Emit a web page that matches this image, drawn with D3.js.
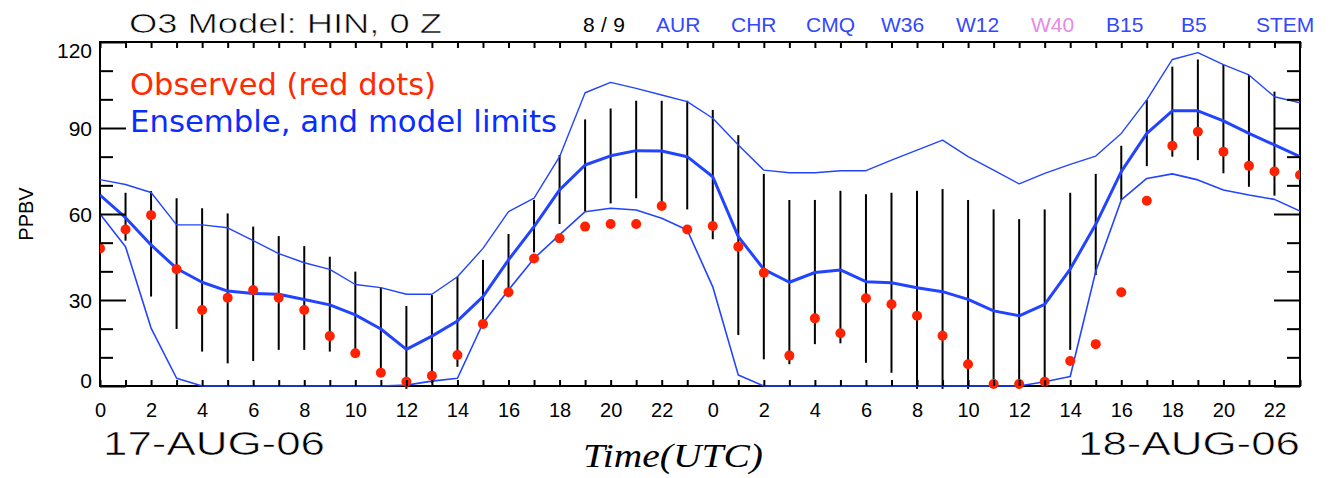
<!DOCTYPE html>
<html>
<head>
<meta charset="utf-8">
<script src="https://cdn.jsdelivr.net/npm/d3@7"></script>
<style>
  html, body { margin: 0; padding: 0; background: #fff; }
  svg { display: block; }
  .thin { stroke: #fff; stroke-width: 0.6px; }
</style>
</head>
<body>
<svg id="chart"></svg>
<script>
// Hour index over the two days (0..47), labels wrap at 24
const hours = d3.range(0, 48);
const dayLabels = ["17-AUG-06", "18-AUG-06"];
const yTickValues = [0, 30, 60, 90, 120];
const stations = ["AUR", "CHR", "CMQ", "W36", "W12", "W40", "B15", "B5", "STEM"];

// Model upper limit, ensemble mean, lower limit (ppbv)
const upperLimit = [72, 70.3, 67.5, 56.2, 56.2, 55.2, 50.7, 46.2, 43, 40.7, 35.4, 34.3, 32, 32, 38.1, 48,
  60.8, 65.5, 80, 102.3, 105.9, 103.8, 101.5, 99.2, 93.4, 84.1, 75.3, 74.4, 74.4, 75.1, 75.1, 78.8,
  82.3, 85.8, 80, 75.3, 70.5, 74.2, 77.3, 80.2, 88.1, 99.8, 113.9, 116.3, 112.1, 108.5, 100.9, 98.8];
const ensembleMean = [66.6, 58.7, 49.2, 41, 36.2, 33.1, 32.3, 32, 30.2, 28.3, 24.8, 19.9, 12.8, 17.4, 22.7, 31.2,
  44, 55.6, 68.4, 77.1, 80.3, 82.1, 82, 80, 73, 52.1, 40.7, 36.2, 39.6, 40.5, 36.4, 36,
  34.3, 32.9, 30.2, 26.2, 24.5, 28.5, 40.8, 56.4, 74.8, 88.1, 96, 96, 92.5, 88.1, 84.1, 80];
const lowerLimit = [60, 48.6, 20.2, 2.7, 0, 0, 0, 0, 0, 0, 0, 0, 0.3, 1.7, 2.7, 21.9,
  33.5, 44.5, 52.7, 60.8, 62, 61.4, 58.5, 54.4, 34.6, 3.8, 0, 0, 0, 0, 0, 0,
  0, 0, 0, 0, 0, 1.5, 3.3, 40, 64.9, 72.4, 74, 71.9, 68.4, 66.6, 65.1, 61];

// Observed ozone (red dots)
const observed = [48, 54.6, 59.6, 40.7, 26.5, 30.8, 33.5, 30.8, 26.5, 17.4, 11.4, 4.6, 1.5, 3.6, 10.8, 21.6,
  32.7, 44.5, 51.5, 55.6, 56.5, 56.5, 62.8, 54.6, 55.8, 48.6, 39.5, 10.6, 23.6, 18.4, 30.6, 28.5,
  24.5, 17.5, 7.6, 0.7, 0.7, 1.5, 8.7, 14.6, 32.7, 64.6, 83.8, 88.7, 81.7, 76.8, 74.8, 73.6];

// Vertical range bars (top / bottom)
const barTop = [null, 67.4, 68, 65.5, 62, 60.2, 55.6, 52.3, 48.8, 45.1, 39.9, 34.4, 27.9, 31.7, 38.1, 44,
  53, 64.9, 80.6, 93, 96.8, 99.5, 99.5, 99.5, 96.3, 87.5, 74, 64.9, 64.9, 68.1, 66.9, 67.4,
  68.1, 68.7, 64.9, 61.6, 58.2, 61.6, 67.4, 74, 83.8, 99.8, 111.4, 113.9, 112.1, 108.5, 102.7, null];
const barBottom = [null, 50.7, 31.2, 19.9, 12, 7.9, 8.7, 12.6, 12.6, 12, 10.2, 3.8, -1, 1, 6.7, 20.1,
  31.7, 46.6, 56.5, 61, 63.7, 65.5, 63.7, 61.6, 51.2, 17.8, 9.3, 7.6, 14.6, 14.9, 8.1, 4.6,
  -1, -1, -1, 0, 0, 0, 12.6, 38.7, 64.9, 76.7, 80, 78.8, 74.2, 69.5, 66.4, null];

const width = 1330, height = 478;
const margin = { top: 42, right: 30, bottom: 92, left: 100 };
const innerRight = width - margin.right;
const innerBottom = height - margin.bottom;

const blue = "#2244ff";
const stationColor = name => name === "W40" ? "#e58ae5" : "#3347ff";

const svg = d3.select("#chart")
  .attr("width", width)
  .attr("height", height)
  .style("font-family", "'Liberation Sans', Arial, sans-serif");

const x = d3.scaleLinear().domain([0, 47]).range([margin.left, innerRight]);
const y = d3.scaleLinear().domain([0, 120]).range([innerBottom, margin.top]);

// frame first, so the model lines lying on zero stay visible on top of it
svg.append("rect")
  .attr("x", margin.left).attr("y", margin.top)
  .attr("width", innerRight - margin.left).attr("height", innerBottom - margin.top)
  .attr("fill", "none").attr("stroke", "#000").attr("stroke-width", 2);

svg.append("clipPath").attr("id", "plotClip")
  .append("rect")
  .attr("x", margin.left).attr("y", margin.top - 4)
  .attr("width", innerRight - margin.left).attr("height", innerBottom - margin.top + 8);

const plot = svg.append("g").attr("clip-path", "url(#plotClip)");

// range bars
plot.append("g")
  .selectAll("line")
  .data(hours.filter(h => barTop[h] !== null))
  .join("line")
  .attr("x1", h => x(h)).attr("x2", h => x(h))
  .attr("y1", h => y(barTop[h])).attr("y2", h => y(barBottom[h]))
  .attr("stroke", "#000")
  .attr("stroke-width", 2);

// model lines
const lineGen = series => d3.line().x((d, i) => x(hours[i])).y(d => y(d))(series);
[[upperLimit, 1.4], [lowerLimit, 1.6], [ensembleMean, 3]].forEach(([s, w]) => {
  plot.append("path")
    .attr("d", lineGen(s))
    .attr("fill", "none")
    .attr("stroke", blue)
    .attr("stroke-width", w)
    .attr("stroke-linejoin", "round");
});

// observed dots
plot.append("g")
  .selectAll("circle")
  .data(observed)
  .join("circle")
  .attr("cx", (d, i) => x(hours[i]))
  .attr("cy", d => y(d))
  .attr("r", 5)
  .attr("fill", "#ff2200");

// axes: bottom (labels every 2 h) and top, ticks pointing inward
const xBottom = d3.axisBottom(x)
  .tickValues(hours)
  .tickSize(-6)
  .tickPadding(17)
  .tickFormat(h => h % 2 === 0 ? String(h % 24) : "");
const gxb = svg.append("g").attr("transform", `translate(0,${innerBottom})`).call(xBottom);
gxb.selectAll("text").style("font-size", "20px").attr("fill", "#000");

const gxt = svg.append("g").attr("transform", `translate(0,${margin.top})`)
  .call(d3.axisTop(x).tickValues(hours).tickSize(-6).tickFormat(""));

// left and right: minor every 10, major every 30
const yMinor = d3.range(0, 121, 10);
const tickLen = v => v % 30 === 0 ? 26 : 13;
const gyl = svg.append("g").attr("transform", `translate(${margin.left},0)`)
  .call(d3.axisLeft(y).tickValues(yMinor).tickSize(0).tickFormat(""));
gyl.selectAll(".tick line").attr("x2", d => tickLen(d));
const gyr = svg.append("g").attr("transform", `translate(${innerRight},0)`)
  .call(d3.axisRight(y).tickValues(yMinor).tickSize(0).tickFormat(""));
gyr.selectAll(".tick line").attr("x2", d => -tickLen(d));

[gxb, gxt, gyl, gyr].forEach(g => {
  g.select(".domain").remove();
  g.selectAll(".tick line").attr("stroke", "#000").attr("stroke-width", 2);
});

// y labels, clamped inside at the ends like the original
svg.append("g")
  .selectAll("text")
  .data(yTickValues)
  .join("text")
  .attr("x", 92)
  .attr("y", d => Math.min(Math.max(y(d), margin.top + 8), innerBottom - 6))
  .attr("dy", "0.36em")
  .attr("text-anchor", "end")
  .style("font-size", "21px")
  .text(d => d);

// y title
svg.append("text")
  .attr("transform", `translate(33,214) rotate(-90)`)
  .attr("text-anchor", "middle")
  .style("font-size", "20px")
  .text("PPBV");

// header
svg.append("text")
  .attr("class", "thin")
  .attr("x", 129).attr("y", 33)
  .attr("textLength", 313).attr("lengthAdjust", "spacingAndGlyphs")
  .style("font-size", "28px")
  .text("O3 Model: HIN, 0 Z");
svg.append("text")
  .attr("x", 583).attr("y", 32)
  .attr("textLength", 42).attr("lengthAdjust", "spacing")
  .style("font-size", "21px")
  .text("8/9");
svg.append("g")
  .selectAll("text")
  .data(stations)
  .join("text")
  .attr("x", (d, i) => 656 + i * 75)
  .attr("y", 32)
  .attr("fill", d => stationColor(d))
  .style("font-size", "21px")
  .text(d => d);

// legend text
svg.append("text")
  .attr("x", 130).attr("y", 95)
  .attr("textLength", 306).attr("lengthAdjust", "spacingAndGlyphs")
  .attr("fill", "#ff2a00")
  .style("font-family", "'DejaVu Sans', sans-serif")
  .style("font-size", "30px")
  .text("Observed (red dots)");
svg.append("text")
  .attr("x", 130).attr("y", 132)
  .attr("textLength", 427).attr("lengthAdjust", "spacingAndGlyphs")
  .attr("fill", "#0a2dff")
  .style("font-family", "'DejaVu Sans', sans-serif")
  .style("font-size", "30px")
  .text("Ensemble, and model limits");

// dates and axis title
svg.append("g")
  .selectAll("text")
  .data(dayLabels)
  .join("text")
  .attr("class", "thin")
  .attr("x", (d, i) => i === 0 ? x(0) + 3 : x(47))
  .attr("y", 455)
  .attr("text-anchor", (d, i) => i === 0 ? "start" : "end")
  .attr("textLength", 222).attr("lengthAdjust", "spacingAndGlyphs")
  .style("font-size", "34px")
  .text(d => d);

svg.append("text")
  .attr("x", 583).attr("y", 467)
  .attr("textLength", 180).attr("lengthAdjust", "spacingAndGlyphs")
  .style("font-family", "'Liberation Serif', 'Times New Roman', serif")
  .style("font-style", "italic")
  .style("font-size", "33px")
  .text("Time(UTC)");
</script>
</body>
</html>
